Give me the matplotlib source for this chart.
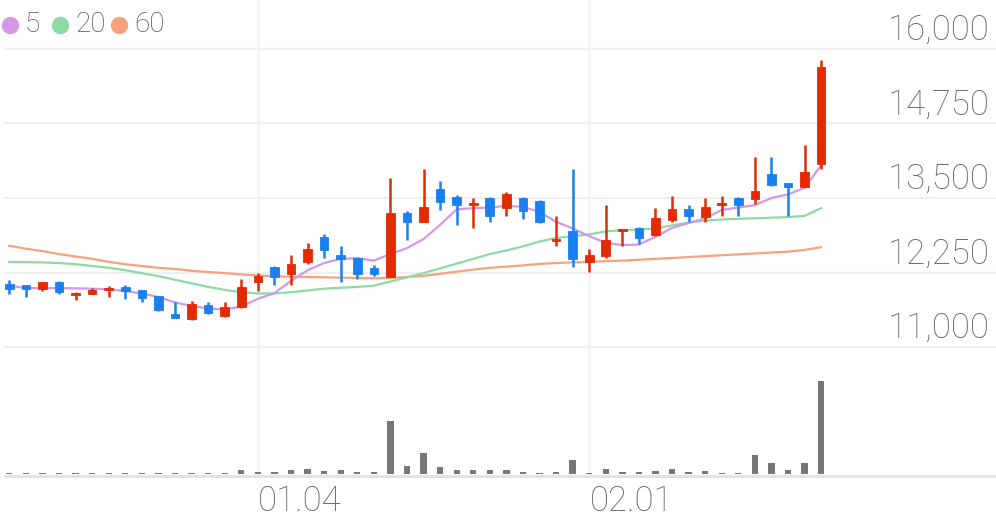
import matplotlib
matplotlib.use("Agg")
import matplotlib.pyplot as plt
import matplotlib.transforms as mtransforms

plt.rcParams["font.family"] = ["Roboto", "DejaVu Sans"]

# candles: open, high, low, close (50 trading days)
abrir = [12060, 12040, 11980, 12100, 11870, 11890, 11960, 12000, 11950, 11860,
         11560, 11480, 11710, 11530, 11680, 12090, 12350, 12230, 12420, 12850,
         12550, 12500, 12330, 12180, 13250, 13090, 13650, 13510, 13380, 13500,
         13340, 13500, 13450, 12780, 12950, 12430, 12530, 12940, 13000, 12880,
         13130, 13310, 13180, 13380, 13500, 13480, 13900, 13750, 13680, 14070]
alto = [12130, 12050, 12100, 12110, 11930, 11990, 12030, 12040, 11960, 11860,
        11750, 11780, 11760, 11750, 12140, 12240, 12360, 12550, 12740, 12890,
        12690, 12510, 12370, 13830, 13290, 13980, 13790, 13550, 13500, 13510,
        13600, 13510, 13460, 13190, 13980, 12640, 13390, 12980, 13010, 13340,
        13540, 13390, 13500, 13540, 13510, 14180, 14180, 13750, 14390, 15820]
bajo = [11890, 11840, 11940, 11890, 11790, 11890, 11840, 11800, 11760, 11610,
        11490, 11460, 11550, 11500, 11650, 11940, 12040, 12040, 12390, 12490,
        12100, 12140, 12190, 12180, 12800, 13090, 13300, 13050, 12990, 13100,
        13200, 13140, 13080, 12700, 12350, 12260, 12500, 12700, 12730, 12870,
        13100, 13090, 13100, 13200, 13190, 13400, 13700, 13190, 13680, 13990]
cierre = [11980, 11970, 12090, 11920, 11890, 11960, 11970, 11940, 11830, 11630,
          11490, 11720, 11580, 11670, 12000, 12190, 12180, 12400, 12650, 12630,
          12480, 12220, 12220, 13250, 13090, 13350, 13440, 13380, 13410, 13190,
          13570, 13280, 13090, 12800, 12480, 12550, 12800, 12950, 12830, 13160,
          13310, 13190, 13350, 13410, 13380, 13620, 13720, 13690, 13940, 15690]

volumen = [8000, 8000, 8000, 8000, 8000, 8000, 8000, 8000, 8000, 8000,
           8000, 8000, 8000, 8000, 40000, 17000, 23000, 37000, 47000, 33000,
           37000, 17000, 20000, 533000, 80000, 213000, 67000, 40000, 37000, 43000,
           37000, 17000, 13000, 20000, 140000, 13000, 53000, 17000, 17000, 27000,
           50000, 17000, 30000, 13000, 13000, 193000, 110000, 43000, 107000, 930000]

ma5 = [12030, 11990, 11990, 11990, 11985, 11980, 11970, 11940, 11900, 11840,
       11750, 11690, 11650, 11630, 11680, 11810, 11905, 12110, 12290, 12410,
       12480, 12490, 12450, 12560, 12660, 12810, 13050, 13310, 13330, 13340,
       13370, 13350, 13270, 13100, 12990, 12860, 12750, 12710, 12720, 12850,
       13000, 13080, 13160, 13300, 13340, 13380, 13500, 13560, 13670, 14050]
ma20 = [12430, 12425, 12420, 12410, 12390, 12360, 12330, 12290, 12240, 12190,
        12130, 12070, 12010, 11960, 11920, 11900, 11900, 11920, 11950, 11980,
        11995, 12010, 12030, 12100, 12170, 12240, 12320, 12400, 12480, 12560,
        12620, 12690, 12770, 12830, 12860, 12890, 12940, 12960, 12970, 12990,
        13040, 13090, 13120, 13140, 13150, 13160, 13170, 13180, 13200, 13330]
ma60 = [12700, 12650, 12610, 12560, 12520, 12480, 12430, 12390, 12360, 12330,
        12310, 12280, 12260, 12240, 12220, 12200, 12190, 12180, 12175, 12170,
        12165, 12160, 12155, 12160, 12175, 12195, 12230, 12265, 12300, 12330,
        12350, 12370, 12395, 12410, 12420, 12430, 12440, 12450, 12465, 12480,
        12495, 12510, 12525, 12540, 12555, 12570, 12585, 12600, 12630, 12675]

ticks_precio = [11000, 12250, 13500, 14750, 16000]
fechas_idx = [15, 35]
fechas_txt = ["01.04", "02.01"]

rojo = "#e42a00"
azul = "#1a7ff0"
c5, c20, c60 = "#d598e8", "#8ddba3", "#f7a27c"

fig = plt.figure(figsize=(9.96, 5.19), dpi=100)
ax = fig.add_axes([0, 0, 1, 1])
ax.set_xlim(-0.56, 59.55)
ax.set_ylim(8120, 16818)
ax.axis("off")

# grid
base_vol = 13500 - (474 - 198) * 16.756
for t in ticks_precio:
    ax.plot([-0.27, 59.55], [t, t], color="#efefef", lw=1.6, zorder=0)
for i in fechas_idx:
    ax.plot([i, i], [base_vol, 16818], color="#f2f2f2", lw=1.8, zorder=0)

# moving averages
n = list(range(len(cierre)))
ax.plot(n, ma60, color=c60, lw=1.6, zorder=2)
ax.plot(n, ma20, color=c20, lw=1.6, zorder=2)
ax.plot(n, ma5, color=c5, lw=1.6, zorder=2)

# candles
for i in n:
    o, h, l, c = abrir[i], alto[i], bajo[i], cierre[i]
    col = rojo if c >= o else azul
    ax.vlines(i, l, h, color=col, lw=1.8, zorder=3)
    alt = max(abs(c - o), 35)
    ax.bar(i, alt, bottom=min(o, c), width=0.52, color=col, edgecolor=col, lw=0.6, zorder=4)

# price labels
trans = mtransforms.blended_transform_factory(ax.transAxes, ax.transData)
for t in ticks_precio:
    ax.text(0.994, t + 150, f"{t:,}", transform=trans, ha="right", va="baseline",
            fontsize=25, color="#666666", fontweight="light")

# date labels
for i, s in zip(fechas_idx, fechas_txt):
    ax.text(i + 0.02, 8120 + 8 * 16.756, s, ha="left", va="baseline", fontsize=25,
            color="#666666", fontweight="light")

# legend
leyenda = [("5", c5, 10), ("20", c20, 60), ("60", c60, 119)]
for txt, col, x in leyenda:
    fig.add_artist(plt.Line2D([x / 996], [1 - 25 / 519], marker="o", markersize=11.5,
                              color=col, lw=0))
    fig.text((x + 15) / 996, 1 - 25 / 519, txt, color="#555555", fontsize=20, ha="left",
             va="center", fontweight="light")

# volume
axv = fig.add_axes([0, 1 - 474 / 519, 1, 114 / 519])
axv.set_xlim(-0.56, 59.55)
axv.set_ylim(0, 1140000)
axv.patch.set_alpha(0)
axv.axis("off")
axv.bar(n, volumen, width=0.38, color="#777777", zorder=3)
fig.add_artist(plt.Line2D([5 / 996, 1], [1 - 475.5 / 519, 1 - 475.5 / 519],
                          color="#e3e3e3", lw=2.2))

fig.savefig("out.png", dpi=100)
